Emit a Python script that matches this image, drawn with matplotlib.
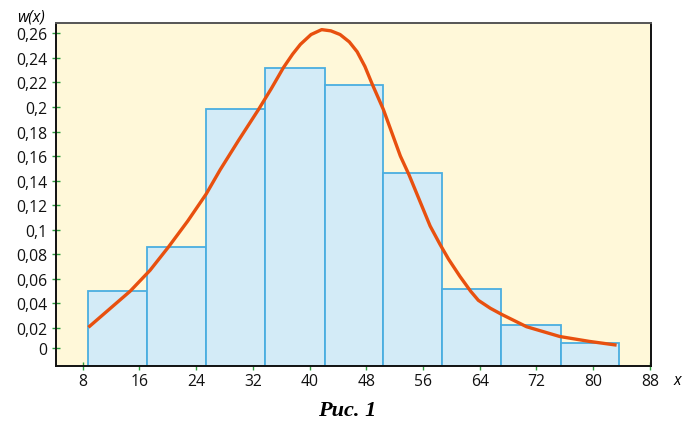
#!/usr/bin/env python
import numpy as np
import matplotlib
matplotlib.use("Agg")
import matplotlib.pyplot as plt

# histogram bins (edges) and relative frequencies
bin_edges = [8.8, 17.1, 25.4, 33.7, 42.1, 50.4, 58.7, 67.0, 75.4, 83.7]
bin_heights = [0.050, 0.086, 0.198, 0.232, 0.218, 0.146, 0.052, 0.022, 0.008]

# density curve
curve_x = [8.8, 11.7, 14.7, 17.5, 20.1, 22.8, 25.4, 27.4, 30.0, 32.8, 34.6, 36.3,
           37.6, 38.7, 40.2, 41.7, 43.0, 44.3, 45.6, 46.7, 47.8, 48.8, 50.4, 52.8,
           54.0, 55.5, 57.0, 58.4, 59.6, 61.2, 62.7, 63.8, 65.5, 67.1, 70.6, 75.3,
           79.5, 83.3]
curve_y = [0.0205, 0.035, 0.050, 0.067, 0.086, 0.107, 0.129, 0.149, 0.173, 0.198,
           0.215, 0.232, 0.243, 0.251, 0.259, 0.263, 0.262, 0.259, 0.253, 0.245,
           0.233, 0.219, 0.198, 0.160, 0.145, 0.124, 0.103, 0.088, 0.076, 0.062,
           0.050, 0.0425, 0.036, 0.031, 0.021, 0.013, 0.009, 0.006]

x_ticks = [8, 16, 24, 32, 40, 48, 56, 64, 72, 80, 88]
# the "0" tick sits a little above the true zero in the original
y_ticks = [0.0035, 0.02, 0.04, 0.06, 0.08, 0.10, 0.12, 0.14, 0.16, 0.18, 0.20, 0.22, 0.24, 0.26]
y_labels = ["0", "0,02", "0,04", "0,06", "0,08", "0,1", "0,12", "0,14", "0,16",
            "0,18", "0,2", "0,22", "0,24", "0,26"]

plt.rcParams['font.family'] = ['Open Sans', 'DejaVu Sans']

fig = plt.figure(figsize=(6.96, 4.27), dpi=100)
ax = fig.add_axes([56/696, 60/427, 595/696, 343/427])
ax.set_facecolor('#fff8d9')

xmin, xmax = 4.23, 88.15
ymin, ymax = -0.011, 0.2684
ax.set_xlim(xmin, xmax)
ax.set_ylim(ymin, ymax)

# bars start from the bottom of the frame
widths = np.diff(bin_edges)
heights = np.array(bin_heights) - ymin
ax.bar(bin_edges[:-1], heights, width=widths, bottom=ymin, align='edge',
       facecolor='#d3ebf7', edgecolor='#4aaee0', linewidth=1.3, zorder=2)

ax.plot(curve_x, curve_y, color='#e8500f', linewidth=2.4,
        solid_joinstyle='round', solid_capstyle='butt', zorder=3)

ax.set_xticks(x_ticks)
ax.set_xticklabels([str(v) for v in x_ticks])
ax.set_yticks(y_ticks)
ax.set_yticklabels(y_labels)
ax.tick_params(axis='both', direction='inout', length=6, width=1,
               color='#2e9e3e', labelsize=11.3, labelcolor='#111111')
ax.tick_params(axis='y', pad=3)
ax.tick_params(axis='x', pad=2)

for side in ['left', 'bottom', 'right']:
    ax.spines[side].set_color('#111111')
    ax.spines[side].set_linewidth(1.4)
ax.spines['top'].set_color('#555555')
ax.spines['top'].set_linewidth(1.4)

fig.text(31/696, 1 - 17/427, 'w(x)', ha='center', va='center',
         fontsize=11.3, style='italic')
fig.text(677/696, 1 - 381/427, 'x', ha='center', va='center',
         fontsize=11.3, style='italic')
fig.text(347/696, 1 - 411/427, 'Рис. 1', ha='center', va='center',
         fontsize=16, fontweight='bold', style='italic',
         family=['Liberation Serif', 'DejaVu Serif'])

fig.savefig('out.png', dpi=100)
